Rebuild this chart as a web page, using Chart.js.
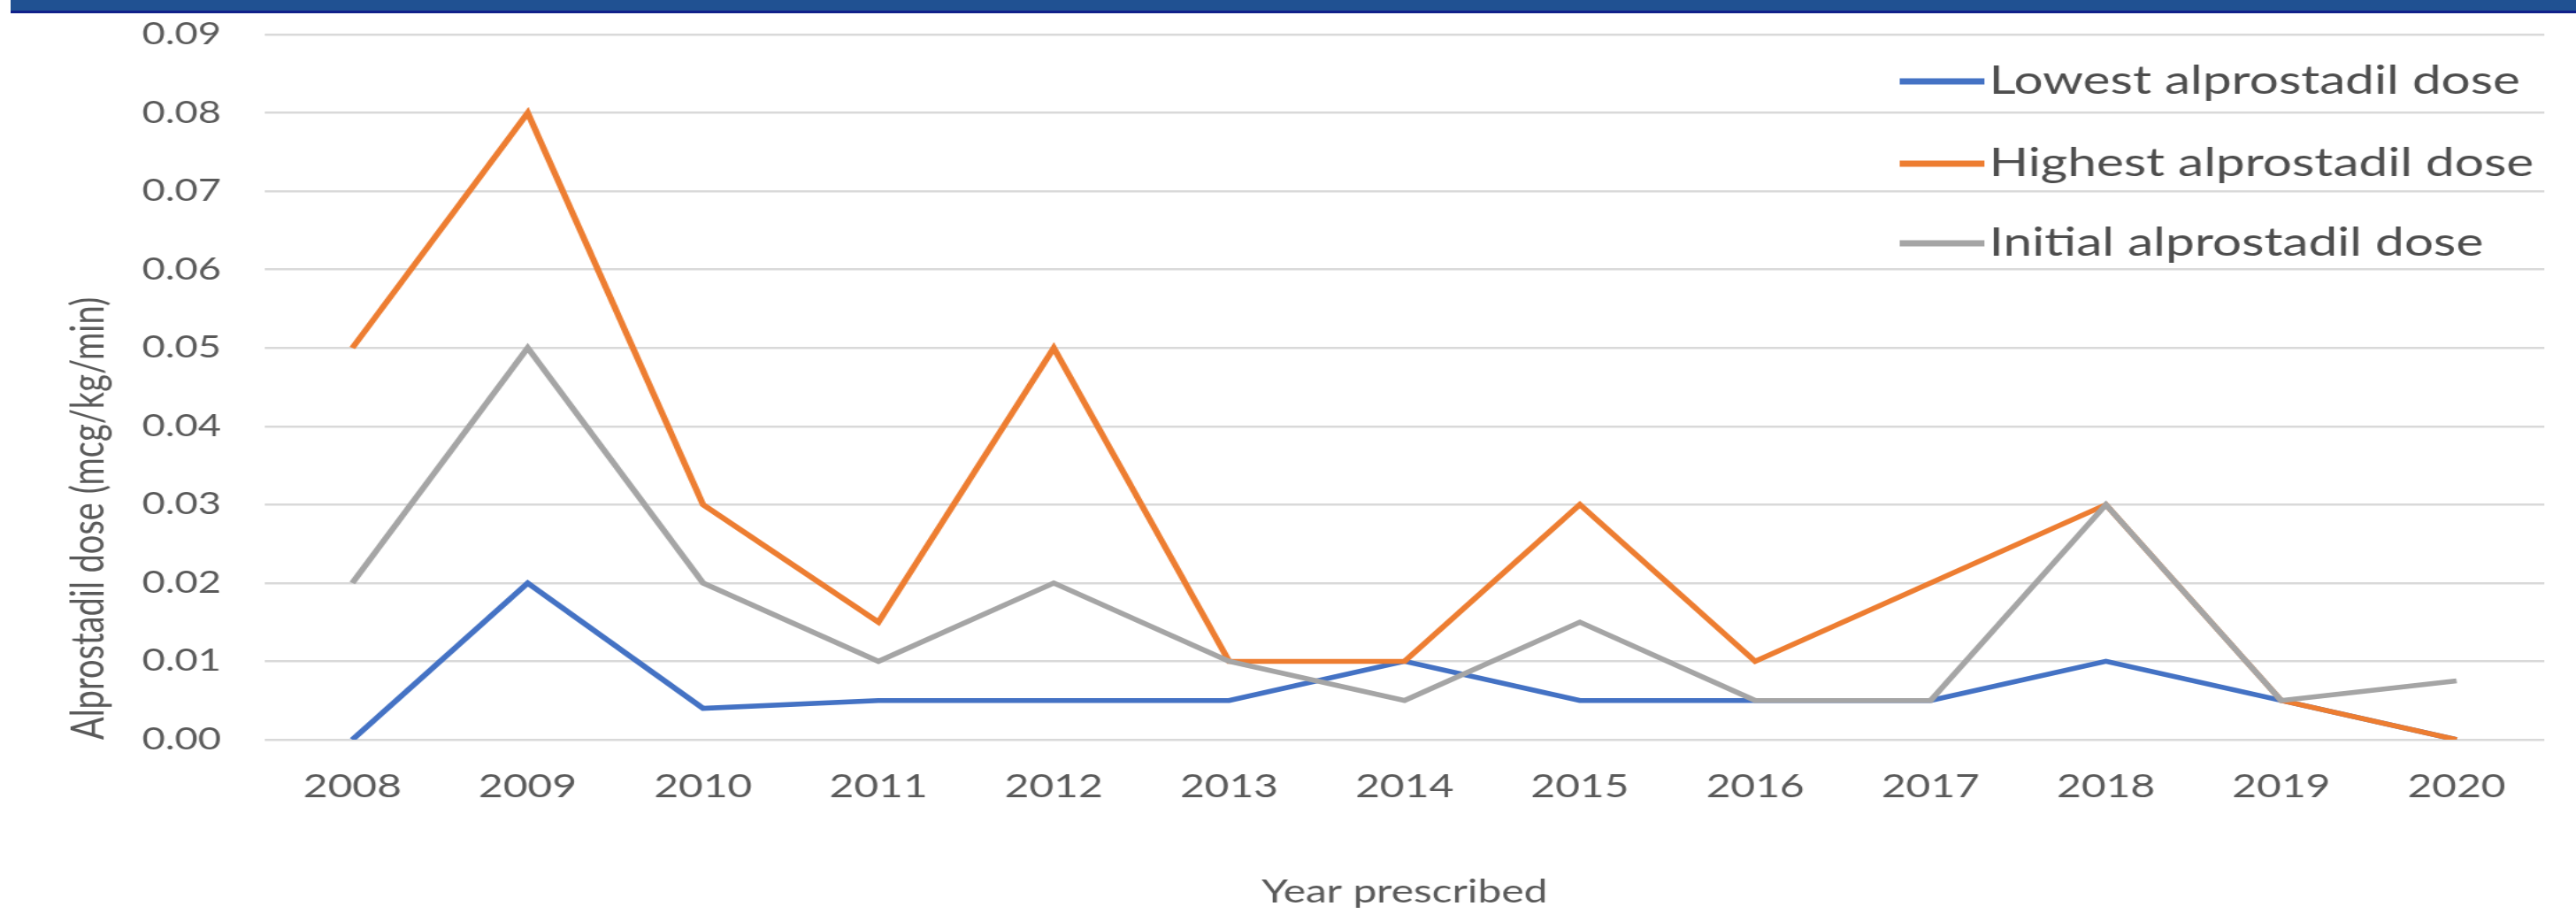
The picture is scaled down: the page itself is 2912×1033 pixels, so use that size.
<!DOCTYPE html>
<html>
<head>
<meta charset="utf-8">
<title>Alprostadil dose by year</title>
<script src="https://cdn.jsdelivr.net/npm/chart.js@4.4.1/dist/chart.umd.min.js"></script>
<style>
    html, body { margin: 0; padding: 0; background: #ffffff; overflow: hidden; }
    /* top banner from the slide */
    #topBar {
        position: absolute; left: 12px; top: 0; right: 0; height: 12px;
        background: #205192; border-bottom: 3px solid #10208a; z-index: 2;
    }
    /* the source picture is stretched sideways, so the chart is too */
    #wrap {
        position: absolute; left: 0; top: 0;
        width: 2190px; height: 1033px;
        transform: scaleX(1.3297); transform-origin: 0 0;
    }
</style>
</head>
<body>
<div id="topBar"></div>
<div id="wrap"><canvas id="chart"></canvas></div>

<script>
// --- Data ---
const years = ['2008', '2009', '2010', '2011', '2012', '2013', '2014', '2015', '2016', '2017', '2018', '2019', '2020'];
const lowestDose  = [0, 0.02, 0.004, 0.005, 0.005, 0.005, 0.01, 0.005, 0.005, 0.005, 0.01, 0.005, 0];
const highestDose = [0.05, 0.08, 0.03, 0.015, 0.05, 0.01, 0.01, 0.03, 0.01, 0.02, 0.03, 0.005, 0];
const initialDose = [0.02, 0.05, 0.02, 0.01, 0.02, 0.01, 0.005, 0.015, 0.005, 0.005, 0.03, 0.005, 0.0075];

const seriesNames = ['Lowest alprostadil dose', 'Highest alprostadil dose', 'Initial alprostadil dose'];
const seriesColors = ['#4472c4', '#ed7d31', '#a5a5a5'];

const yMin = 0, yMax = 0.09, yStep = 0.01;

const axisTitleX = 'Year prescribed';
const axisTitleY = 'Alprostadil dose (mcg/kg/min)';

const textColor = '#595959';

// --- Legend inside the plot area (like the Excel original) ---
const insideLegend = {
    id: 'insideLegend',
    afterDatasetsDraw(chart) {
        const ctx = chart.ctx;
        const rowsY = [92, 185, 275];
        const lineX0 = 1615, lineX1 = 1687, textX = 1691;
        ctx.save();
        ctx.font = '44px Lato';
        ctx.textBaseline = 'middle';
        ctx.textAlign = 'left';
        chart.data.datasets.forEach(function(ds, i) {
            ctx.strokeStyle = ds.borderColor;
            ctx.lineWidth = 7;
            ctx.lineCap = 'butt';
            ctx.beginPath();
            ctx.moveTo(lineX0, rowsY[i]);
            ctx.lineTo(lineX1, rowsY[i]);
            ctx.stroke();
            ctx.fillStyle = '#4d4d4d';
            ctx.fillText(ds.label, textX, rowsY[i]);
        });
        ctx.restore();
    }
};

// --- Build datasets ---
function makeDataset(i, values, order) {
    return {
        label: seriesNames[i],
        data: values,
        borderColor: seriesColors[i],
        backgroundColor: seriesColors[i],
        borderWidth: 5.5,
        pointRadius: 0,
        tension: 0,
        fill: false,
        order: order
    };
}

const ctx = document.getElementById('chart').getContext('2d');

new Chart(ctx, {
    type: 'line',
    data: {
        labels: years,
        datasets: [
            makeDataset(0, lowestDose, 3),
            makeDataset(1, highestDose, 2),
            makeDataset(2, initialDose, 1)
        ]
    },
    options: {
        responsive: true,
        maintainAspectRatio: false,
        animation: false,
        devicePixelRatio: 1,
        layout: { padding: { top: 39, right: 27, bottom: 0, left: 0 } },
        plugins: {
            legend: { display: false },
            tooltip: { enabled: false }
        },
        scales: {
            x: {
                offset: true,
                grid: { display: false },
                border: { display: false },
                ticks: {
                    color: textColor,
                    font: { family: 'Lato', size: 36 },
                    padding: 24,
                    maxRotation: 0,
                    autoSkip: false
                },
                title: {
                    display: true,
                    text: axisTitleX,
                    color: textColor,
                    font: { family: 'Lato', size: 36 },
                    padding: { top: 0, bottom: 3 }
                },
                afterFit: function(scale) { scale.height = 197; }
            },
            y: {
                min: yMin,
                max: yMax,
                grid: { color: '#d9d9d9', lineWidth: 2.5, drawTicks: false },
                border: { display: false },
                ticks: {
                    stepSize: yStep,
                    color: textColor,
                    font: { family: 'Lato', size: 34 },
                    padding: 37,
                    callback: function(v) { return v.toFixed(2); }
                },
                title: {
                    display: true,
                    text: axisTitleY,
                    align: 'start',
                    color: textColor,
                    font: { family: 'Lato', size: 38 },
                    padding: { top: 53, bottom: 0 }
                },
                afterFit: function(scale) {
                    scale.width = 225;
                    // tick padding would otherwise push the plot top down
                    scale.paddingTop = 0;
                    scale.paddingBottom = 0;
                }
            }
        }
    },
    plugins: [insideLegend]
});
</script>
</body>
</html>
